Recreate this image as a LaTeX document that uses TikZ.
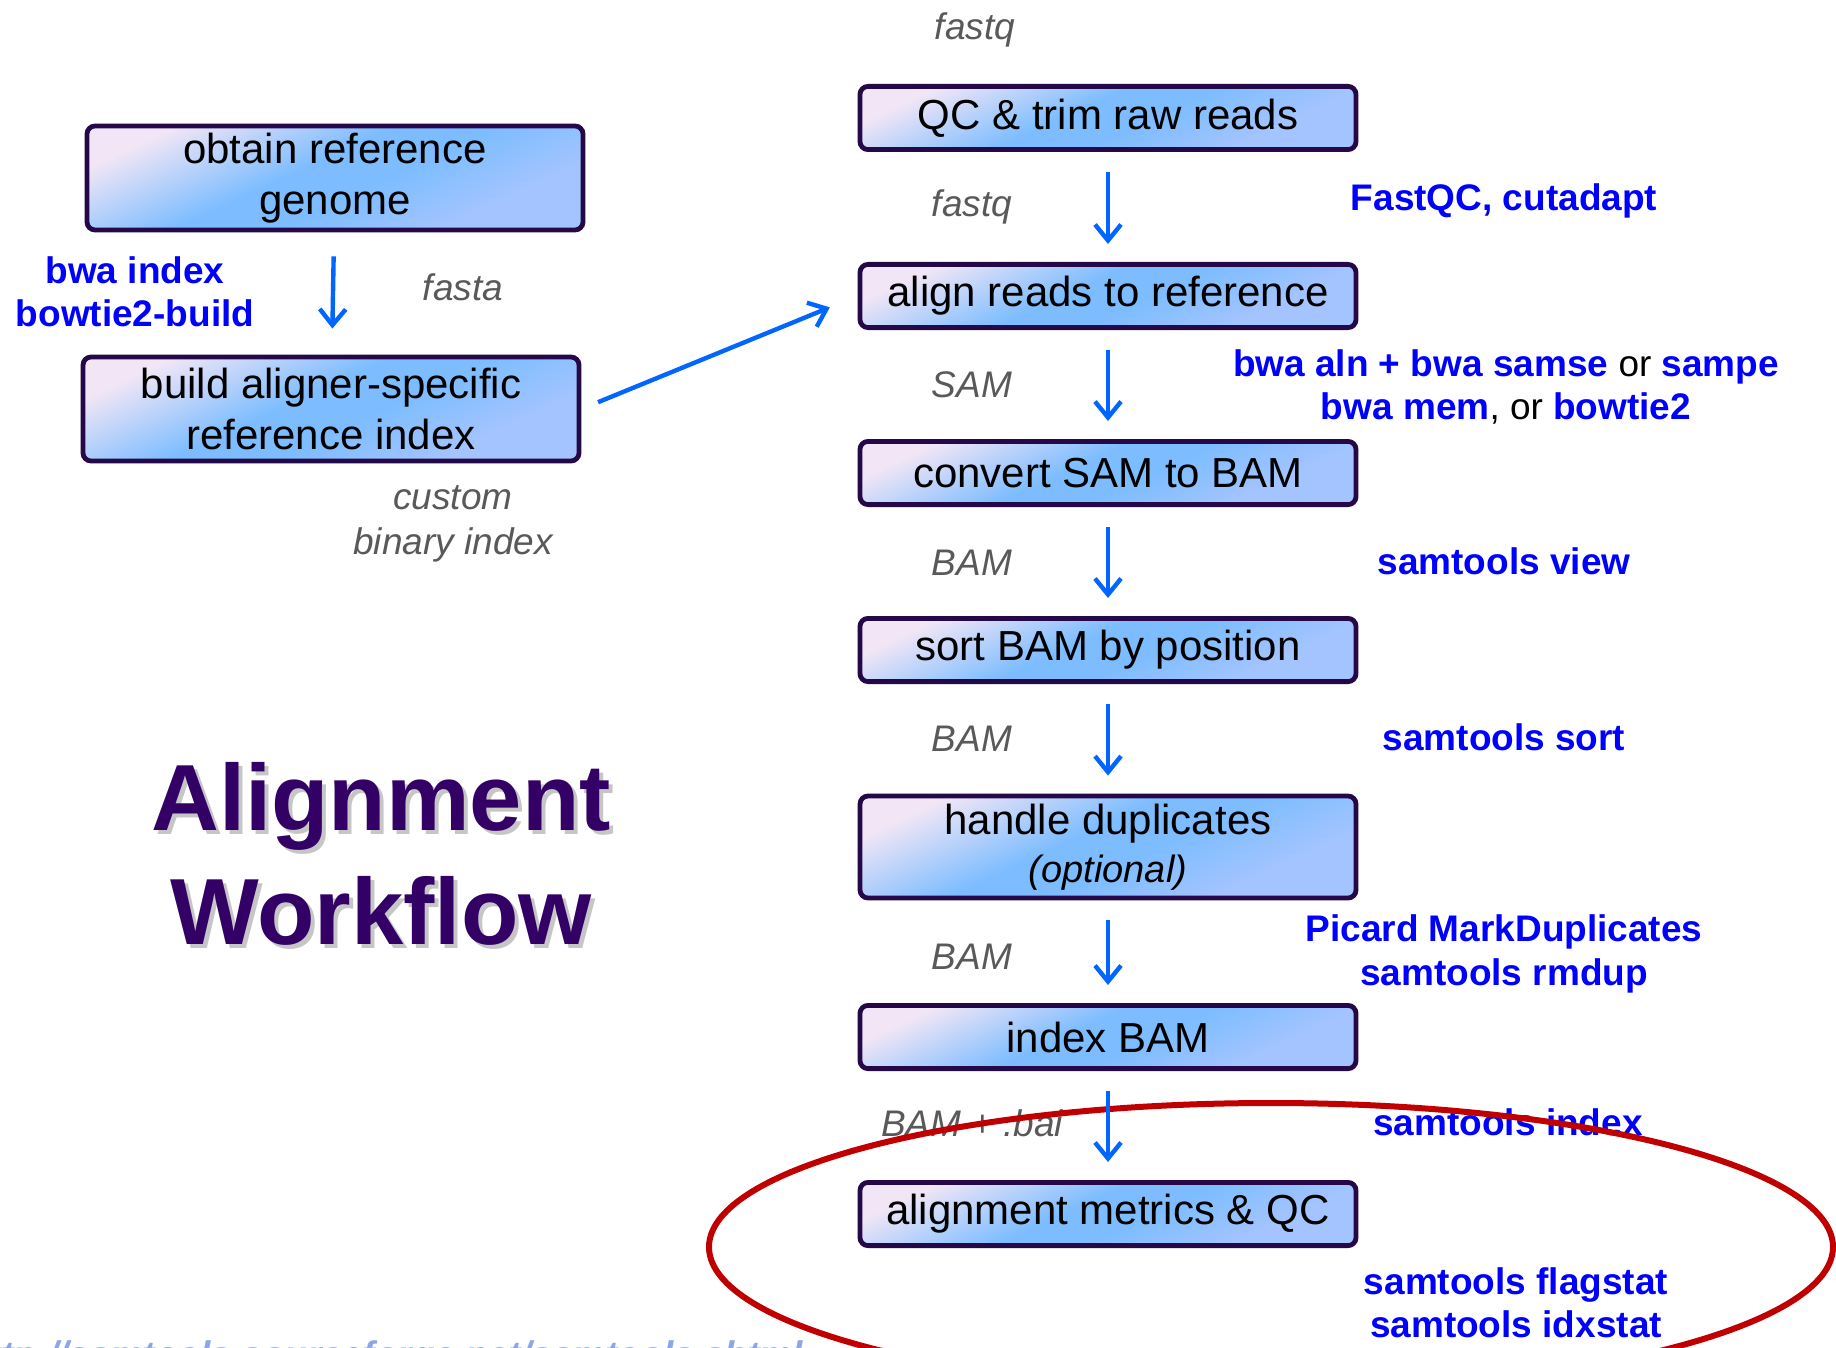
\documentclass[tikz,border=0pt]{standalone}
\usepackage{fontspec}
\setmainfont{Liberation Sans}
\usetikzlibrary{
    arrows.meta,
    positioning,
    calc
}
\definecolor{wfPurple}{HTML}{250848}
\definecolor{wfTitle}{HTML}{330066}
\definecolor{wfBlue}{HTML}{0066FF}
\definecolor{wfTool}{HTML}{0000FF}
\definecolor{wfGray}{HTML}{595959}
\definecolor{wfRed}{HTML}{C00000}
\definecolor{wfLight}{HTML}{F2E6F6}
\definecolor{wfSky}{HTML}{7DBDFF}
\definecolor{wfSoft}{HTML}{A4C4FF}
\definecolor{wfLink}{HTML}{8EA6E6}
\pgfdeclareverticalshading{wfbox}{100bp}{
    color(0bp)=(wfSoft); color(30bp)=(wfSoft);
    color(45bp)=(wfSky); color(55bp)=(wfSky);
    color(75bp)=(wfLight); color(100bp)=(wfLight)}

\begin{document}
\begin{tikzpicture}[x=0.5pt,y=-0.5pt,
    stepbox/.style={draw=wfPurple,line width=2.4pt,rounded corners=4pt,
        shading=wfbox,shading angle=25,
        minimum width=248pt,minimum height=31.6pt,align=center,
        font=\fontsize{21}{25.5}\selectfont},
    tallbox/.style={stepbox,minimum height=52pt},
    flow/.style={wfBlue,line width=2.2pt,-{Straight Barb[length=8pt,width=13pt]}},
    tool/.style={text=wfTool,align=center,font=\fontsize{18.5}{21.7}\selectfont\bfseries},
    fmt/.style={text=wfGray,align=center,font=\fontsize{18.5}{22.5}\selectfont\itshape}]
        \useasboundingbox (0,0) rectangle (1836,1348);

        % Reference branch
        \node[tallbox] (obtain) at (335,178) {obtain reference\\genome};
        \node[tallbox] (buildidx) at (331,409) {build aligner-specific\\reference index};
        \node[tool] (idxtool) at (135,292) {bwa index\\bowtie2-build};
        \node[fmt] (fasta) at (463,287) {fasta};
        \node[fmt] (binidx) at (453,524) {custom\\binary index};

        % Title
        \node[text=gray!45,align=center,font=\fontsize{47}{57}\selectfont\bfseries]
            (titleshadow) at (385,858) {Alignment\\Workflow};
        \node[text=wfTitle,align=center,font=\fontsize{47}{57}\selectfont\bfseries]
            (title) at (381,854) {Alignment\\Workflow};

        % Read processing steps
        \node[stepbox] (qc) at (1108,118) {QC \& trim raw reads};
        \node[stepbox] (align) at (1108,296) {align reads to reference};
        \node[stepbox] (convert) at (1108,473) {convert SAM to BAM};
        \node[stepbox] (sort) at (1108,650) {sort BAM by position};
        \node[tallbox,minimum height=51pt,font=\fontsize{21}{24}\selectfont] (dedup) at (1108,847)
            {handle duplicates\\{\fontsize{19}{24}\selectfont\itshape(optional)}};
        \node[stepbox] (indexbam) at (1108,1037) {index BAM};
        \node[stepbox] (metrics) at (1108,1214) {alignment metrics \& QC};

        % File formats
        \node[fmt] (fq0) at (975,30) {fastq};
        \node[fmt] (fq1) at (972,207) {fastq};
        \node[fmt] (sam) at (972,385) {SAM};
        \node[fmt] (bam1) at (972,563) {BAM};
        \node[fmt] (bam2) at (972,739) {BAM};
        \node[fmt] (bam3) at (972,957) {BAM};
        \node[fmt] (bambai) at (972,1123) {BAM + .bai};

        % Tools
        \node[tool] (qctool) at (1504,201) {FastQC, cutadapt};
        \node[tool] (aligntool) at (1506,387)
            {bwa aln + bwa samse {\mdseries\color{black}or} sampe\\
             bwa mem{\mdseries\color{black}, or} bowtie2};
        \node[tool] (viewtool) at (1504,561) {samtools view};
        \node[tool] (sorttool) at (1504,737) {samtools sort};
        \node[tool] (duptool) at (1504,954) {Picard MarkDuplicates\\samtools rmdup};
        \node[tool] (idxbamtool) at (1508,1122) {samtools index};
        \node[tool] (stattool) at (1516,1303) {samtools flagstat\\samtools idxstat};

        % Source link, cut by the page
        \node[anchor=base east,text=wfLink,font=\fontsize{18.5}{22}\selectfont\bfseries\itshape]
            (srclink) at (810,1367) {http://samtools.sourceforge.net/samtools.shtml};

        % QC ring
        \draw[wfRed,line width=3pt] (1271,1247) ellipse (562 and 144);

        % Arrows
        \draw[flow,shorten <=12pt,shorten >=13pt] (obtain) -- (buildidx);
        \draw[flow,shorten <=9pt,shorten >=15pt] (buildidx.east) -- (align.west);
        \foreach \a/\b in {qc/align,align/convert,convert/sort,sort/dedup,dedup/indexbam,indexbam/metrics}{
            \draw[flow,shorten <=10pt,shorten >=9pt] (\a.south) -- (\b.north);
        }
    \end{tikzpicture}
\end{document}
